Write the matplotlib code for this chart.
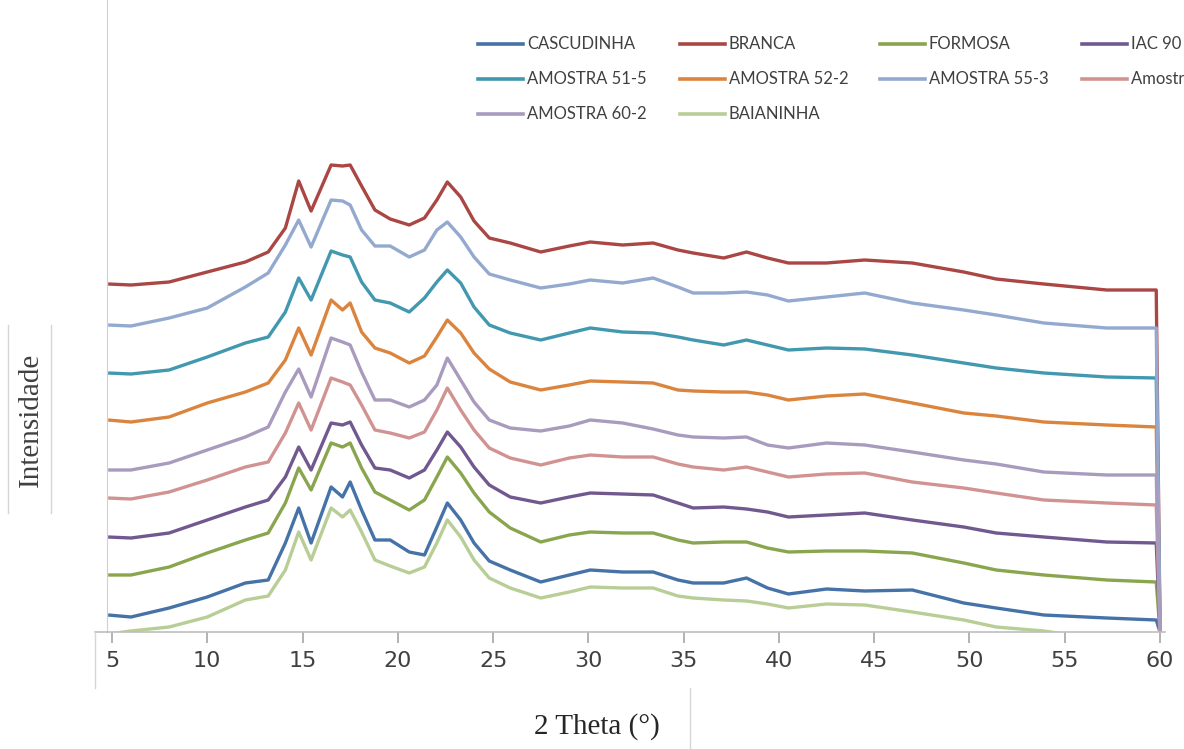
import matplotlib
matplotlib.use("Agg")
import matplotlib.pyplot as plt
from matplotlib.lines import Line2D

# ---- data (intensity in arbitrary units) ----
two_theta = [4.8, 6, 8, 10, 12, 13.2, 14.1, 14.8, 15.45, 16.5, 17.1, 17.5, 18.1, 18.8,
             19.6, 20.6, 21.4, 22.05, 22.6, 23.3, 24.0, 24.8, 25.9, 27.5, 29.0, 30.1,
             31.8, 33.4, 34.7, 35.5, 37.1, 38.3, 39.4, 40.5, 42.5, 44.5, 47.0, 49.7,
             51.4, 53.9, 57.2, 59.8, 60.0]

cascudinha = [17, 15, 24, 35, 49, 52, 89, 124, 89, 145, 135, 150, 122, 92, 92, 80, 77, 105,
              129, 112, 89, 71, 62, 50, 57, 62, 60, 60, 52, 49, 49, 54, 44, 38, 43, 41, 42,
              29, 24, 17, 14, 12, 0]
branca = [348, 347, 350, 360, 370, 380, 404, 451, 421, 467, 466, 467, 446, 422, 413, 407,
          414, 432, 450, 435, 411, 394, 389, 380, 386, 390, 387, 389, 382, 379, 374, 380,
          374, 369, 369, 372, 369, 360, 353, 348, 342, 342, 0]
formosa = [57, 57, 65, 79, 92, 99, 129, 164, 142, 189, 185, 189, 164, 140, 132, 122, 132,
           155, 175, 159, 139, 120, 104, 90, 97, 100, 99, 99, 92, 89, 90, 90, 84, 80, 81,
           81, 79, 69, 62, 57, 52, 50, 0]
iac90 = [95, 94, 99, 112, 125, 132, 155, 185, 162, 209, 207, 210, 187, 164, 162, 154, 162,
         182, 200, 185, 165, 147, 135, 129, 135, 139, 138, 137, 129, 124, 125, 123, 120,
         115, 117, 119, 112, 105, 99, 95, 90, 89, 0]
amostra_51_5 = [259, 258, 262, 275, 289, 295, 320, 354, 332, 381, 377, 375, 350, 332, 329,
                320, 334, 350, 362, 349, 325, 307, 299, 292, 299, 304, 300, 299, 295, 292,
                287, 292, 287, 282, 284, 283, 277, 269, 264, 259, 255, 254, 0]
amostra_52_2 = [212, 210, 215, 229, 240, 249, 272, 304, 277, 332, 322, 329, 300, 284, 279,
                269, 276, 295, 312, 299, 279, 263, 250, 242, 247, 251, 250, 249, 242, 241,
                240, 240, 237, 232, 236, 238, 229, 219, 216, 210, 207, 205, 0]
amostra_55_3 = [307, 306, 314, 324, 345, 359, 387, 412, 385, 432, 431, 427, 402, 386, 386,
                375, 382, 402, 410, 395, 375, 358, 352, 344, 348, 352, 349, 354, 345, 339,
                339, 340, 337, 331, 335, 339, 329, 322, 317, 309, 304, 304, 0]
amostra_x = [134, 133, 140, 152, 165, 170, 199, 229, 202, 254, 250, 247, 227, 202, 199, 194,
             200, 222, 244, 222, 202, 184, 174, 167, 174, 177, 175, 175, 168, 165, 162, 165,
             160, 155, 158, 159, 150, 144, 139, 132, 129, 127, 0]
amostra_60_2 = [162, 162, 169, 182, 195, 205, 240, 263, 235, 294, 290, 287, 260, 232, 232,
                225, 232, 247, 274, 252, 230, 212, 204, 201, 206, 212, 209, 203, 197, 195,
                194, 195, 187, 184, 189, 187, 180, 172, 168, 160, 157, 157, 0]
baianinha = [-2, 1, 5, 15, 32, 36, 62, 100, 72, 124, 115, 122, 100, 72, 66, 59, 65, 89, 112,
             95, 72, 54, 44, 34, 40, 45, 44, 44, 36, 34, 32, 31, 28, 24, 28, 27, 20, 12, 5,
             1, -8, -13, -13]

labels = ["CASCUDINHA", "BRANCA", "FORMOSA", "IAC 90", "AMOSTRA 51-5", "AMOSTRA 52-2",
          "AMOSTRA 55-3", "Amostra 57-2", "AMOSTRA 60-2", "BAIANINHA"]
series = [cascudinha, branca, formosa, iac90, amostra_51_5, amostra_52_2, amostra_55_3,
          amostra_x, amostra_60_2, baianinha]
colors = ["#4572A7", "#AA4643", "#89A54E", "#71588F", "#4198AF", "#DB843D", "#93A9CF",
          "#D19392", "#A99BBD", "#B9CD96"]
xticks = [5, 10, 15, 20, 25, 30, 35, 40, 45, 50, 55, 60]

# ---- figure ----
W, H = 1184, 749
fig = plt.figure(figsize=(W / 100, H / 100), dpi=100)
ax = fig.add_axes([107 / W, (H - 632) / H, (1165 - 107) / W, 632 / H])

for ys, c in zip(series, colors):
    ax.plot(two_theta, ys, color=c, lw=2.4, solid_joinstyle="round",
            solid_capstyle="butt")

ax.set_xlim(4.74, 60.26)
ax.set_ylim(0, 632)
ax.set_yticks([])
ax.set_xticks(xticks)
ax.set_xticklabels([str(t) for t in xticks], fontsize=16, color="#404040",
                   family="DejaVu Sans")
ax.tick_params(axis="x", direction="out", length=8, width=1.2, color="#a6a6a6", pad=6)
for s in ["top", "right"]:
    ax.spines[s].set_visible(False)
ax.spines["left"].set_color("#d0d0d0")
ax.spines["bottom"].set_color("#bfbfbf")
ax.spines["bottom"].set_linewidth(1.2)

# axis titles
fig.text(597 / W, 1 - 727 / H, "2 Theta (°)", family="Liberation Serif", fontsize=21,
         color="#262626", ha="center", va="center")
fig.text(31 / W, 1 - 420 / H, "Intensidade", family="Liberation Serif", fontsize=21,
         color="#404040", ha="center", va="center", rotation=90)


def fline(x0, y0, x1, y1, color="#d6d6d6", lw=1.0):
    fig.add_artist(Line2D([x0 / W, x1 / W], [1 - y0 / H, 1 - y1 / H],
                          transform=fig.transFigure, color=color, lw=lw))


# decorative frame fragments visible in the reference
fline(95, 632, 107, 632, "#bfbfbf", 1.2)
fline(95, 632, 95, 688)
fline(690, 688, 690, 749)
fline(8, 325, 8, 513)
fline(51, 325, 51, 513)

# legend (4 columns, Excel-style; the last column runs off the right edge as in the reference)
col_x = [478, 680, 880, 1082]
row_y = [44, 79, 114]
for i, (lab, c) in enumerate(zip(labels, colors)):
    r, k = divmod(i, 4)
    x0, y0 = col_x[k], row_y[r]
    fline(x0, y0, x0 + 45, y0, c, 2.6)
    fig.text((x0 + 49) / W, 1 - y0 / H, lab, family=["Lato", "DejaVu Sans"], fontsize=12,
             color="#404040", ha="left", va="center")

fig.savefig("out.png", dpi=100)
